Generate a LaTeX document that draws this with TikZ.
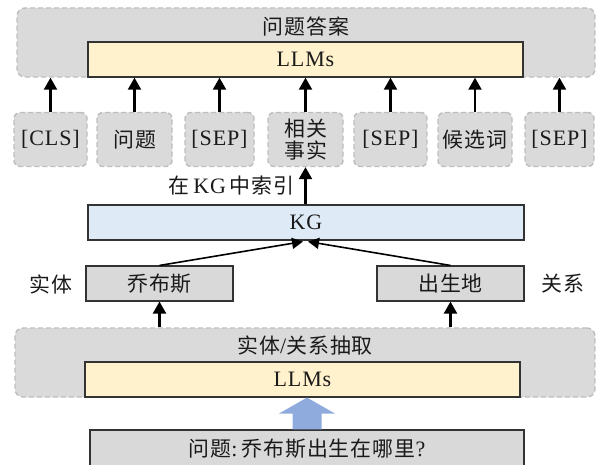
\documentclass[tikz,border=0pt]{standalone}
\usepackage{fontspec}
\setmainfont{Liberation Serif}[LetterSpace=4]
\newfontfamily\cjk{Noto Sans CJK SC}[Scale=0.95, LetterSpace=5]
\newcommand\zhtxt[1]{{\cjk #1}}
\usetikzlibrary{arrows.meta,calc}
\definecolor{contfill}{HTML}{DADADA}
\definecolor{dashgray}{HTML}{BDBDBD}
\definecolor{llmfill}{HTML}{FFF2CC}
\definecolor{kgfill}{HTML}{DEEBF7}
\definecolor{boxfill}{HTML}{D9D9D9}
\definecolor{edge}{HTML}{333333}
\definecolor{txt}{HTML}{1A1A1A}
\definecolor{bluearrow}{HTML}{8FAADC}
\begin{document}
\begin{tikzpicture}[x=1pt,y=-1pt,
  font=\fontsize{22}{25}\selectfont, text=txt,
  cont/.style={draw=dashgray, line width=1.4pt, dash pattern=on 5pt off 3pt, fill=contfill, rounded corners=8pt, inner sep=0pt},
  tok/.style={draw=dashgray, line width=1.4pt, dash pattern=on 5pt off 3pt, fill=contfill, rounded corners=6pt, inner sep=0pt, minimum height=54pt, align=center},
  llm/.style={draw=edge, line width=1.1pt, fill=llmfill, inner sep=0pt, minimum height=35pt},
  kgbox/.style={draw=edge, line width=1.1pt, fill=kgfill, inner sep=0pt, minimum height=35pt},
  graybox/.style={draw=edge, line width=1.1pt, fill=boxfill, inner sep=0pt, minimum height=35pt},
  arr/.style={draw=black, line width=2.2pt, -{Triangle[width=13pt,length=12pt]}},
  arrthin/.style={draw=black, line width=1.6pt, -{Triangle[width=11pt,length=11pt]}}
]
\useasboundingbox (0,0) rectangle (600,465);
\clip (0,0) rectangle (600,465);

% top container
\node[cont, minimum width=578pt, minimum height=69pt] (topg) at (306,42.5) {};
\node (anslab) at (306,26) {\zhtxt{问题答案}};
\node[llm, minimum width=435pt] (llm1) at (305.5,59.5) {LLMs};

% tokens
\node[tok, minimum width=73pt] (t1) at (50.5,139.5) {[CLS]};
\node[tok, minimum width=75pt] (t2) at (134.5,139.5) {\zhtxt{问题}};
\node[tok, minimum width=69pt] (t3) at (219.5,139.5) {[SEP]};
\node[tok, minimum width=75pt] (t4) at (305.5,139.5) {\zhtxt{相关}\\[-3pt]\zhtxt{事实}};
\node[tok, minimum width=73pt] (t5) at (390.5,139.5) {[SEP]};
\node[tok, minimum width=74pt] (t6) at (475,139.5) {\zhtxt{候选词}};
\node[tok, minimum width=69pt] (t7) at (559.5,139.5) {[SEP]};

\foreach \i in {1,...,7}
  \draw[arr] (t\i.north) -- (t\i.north |- topg.south);

% KG
\node[kgbox, minimum width=436pt] (kg) at (306,222.5) {KG};
\node[anchor=east] (idx) at (298,186) {\zhtxt{在}\,KG\,\zhtxt{中索引}};
\draw[arr] (kg.north -| t4.south) -- (t4.south);

% entity / relation
\node[graybox, minimum width=147pt] (jobs) at (159.5,283.5) {\zhtxt{乔布斯}};
\node[graybox, minimum width=147pt] (born) at (450.5,283.5) {\zhtxt{出生地}};
\node (entlab) at (51,284) {\zhtxt{实体}};
\node (rellab) at (563,284) {\zhtxt{关系}};
\coordinate (kgin1) at ($(kg.south)+(-3,1)$);
\coordinate (kgin2) at ($(kg.south)+(2,1)$);
\draw[arrthin] (jobs.north) -- (kgin1);
\draw[arrthin] (born.north) -- (kgin2);

% bottom container
\node[cont, minimum width=580pt, minimum height=69pt] (botg) at (305,362.5) {};
\node (exlab) at (305,345) {\zhtxt{实体}/\zhtxt{关系抽取}};
\node[llm, minimum width=435pt] (llm2) at (302.5,379.5) {LLMs};
\draw[arr] (jobs.south |- botg.north) -- (jobs.south);
\draw[arr] (born.south |- botg.north) -- (born.south);

% question
\node[graybox, minimum width=434pt, minimum height=38pt] (q) at (307,449) {\zhtxt{问题}:\,\zhtxt{乔布斯出生在哪里}?};
\coordinate (bt) at (q.north |- llm2.south);
\fill[bluearrow] ($(q.north)+(-14.5,0)$) -- ($(bt)+(-14.5,16)$) -- ($(bt)+(-28,16)$) -- (bt)
  -- ($(bt)+(28,16)$) -- ($(bt)+(14.5,16)$) -- ($(q.north)+(14.5,0)$) -- cycle;
\end{tikzpicture}
\end{document}
